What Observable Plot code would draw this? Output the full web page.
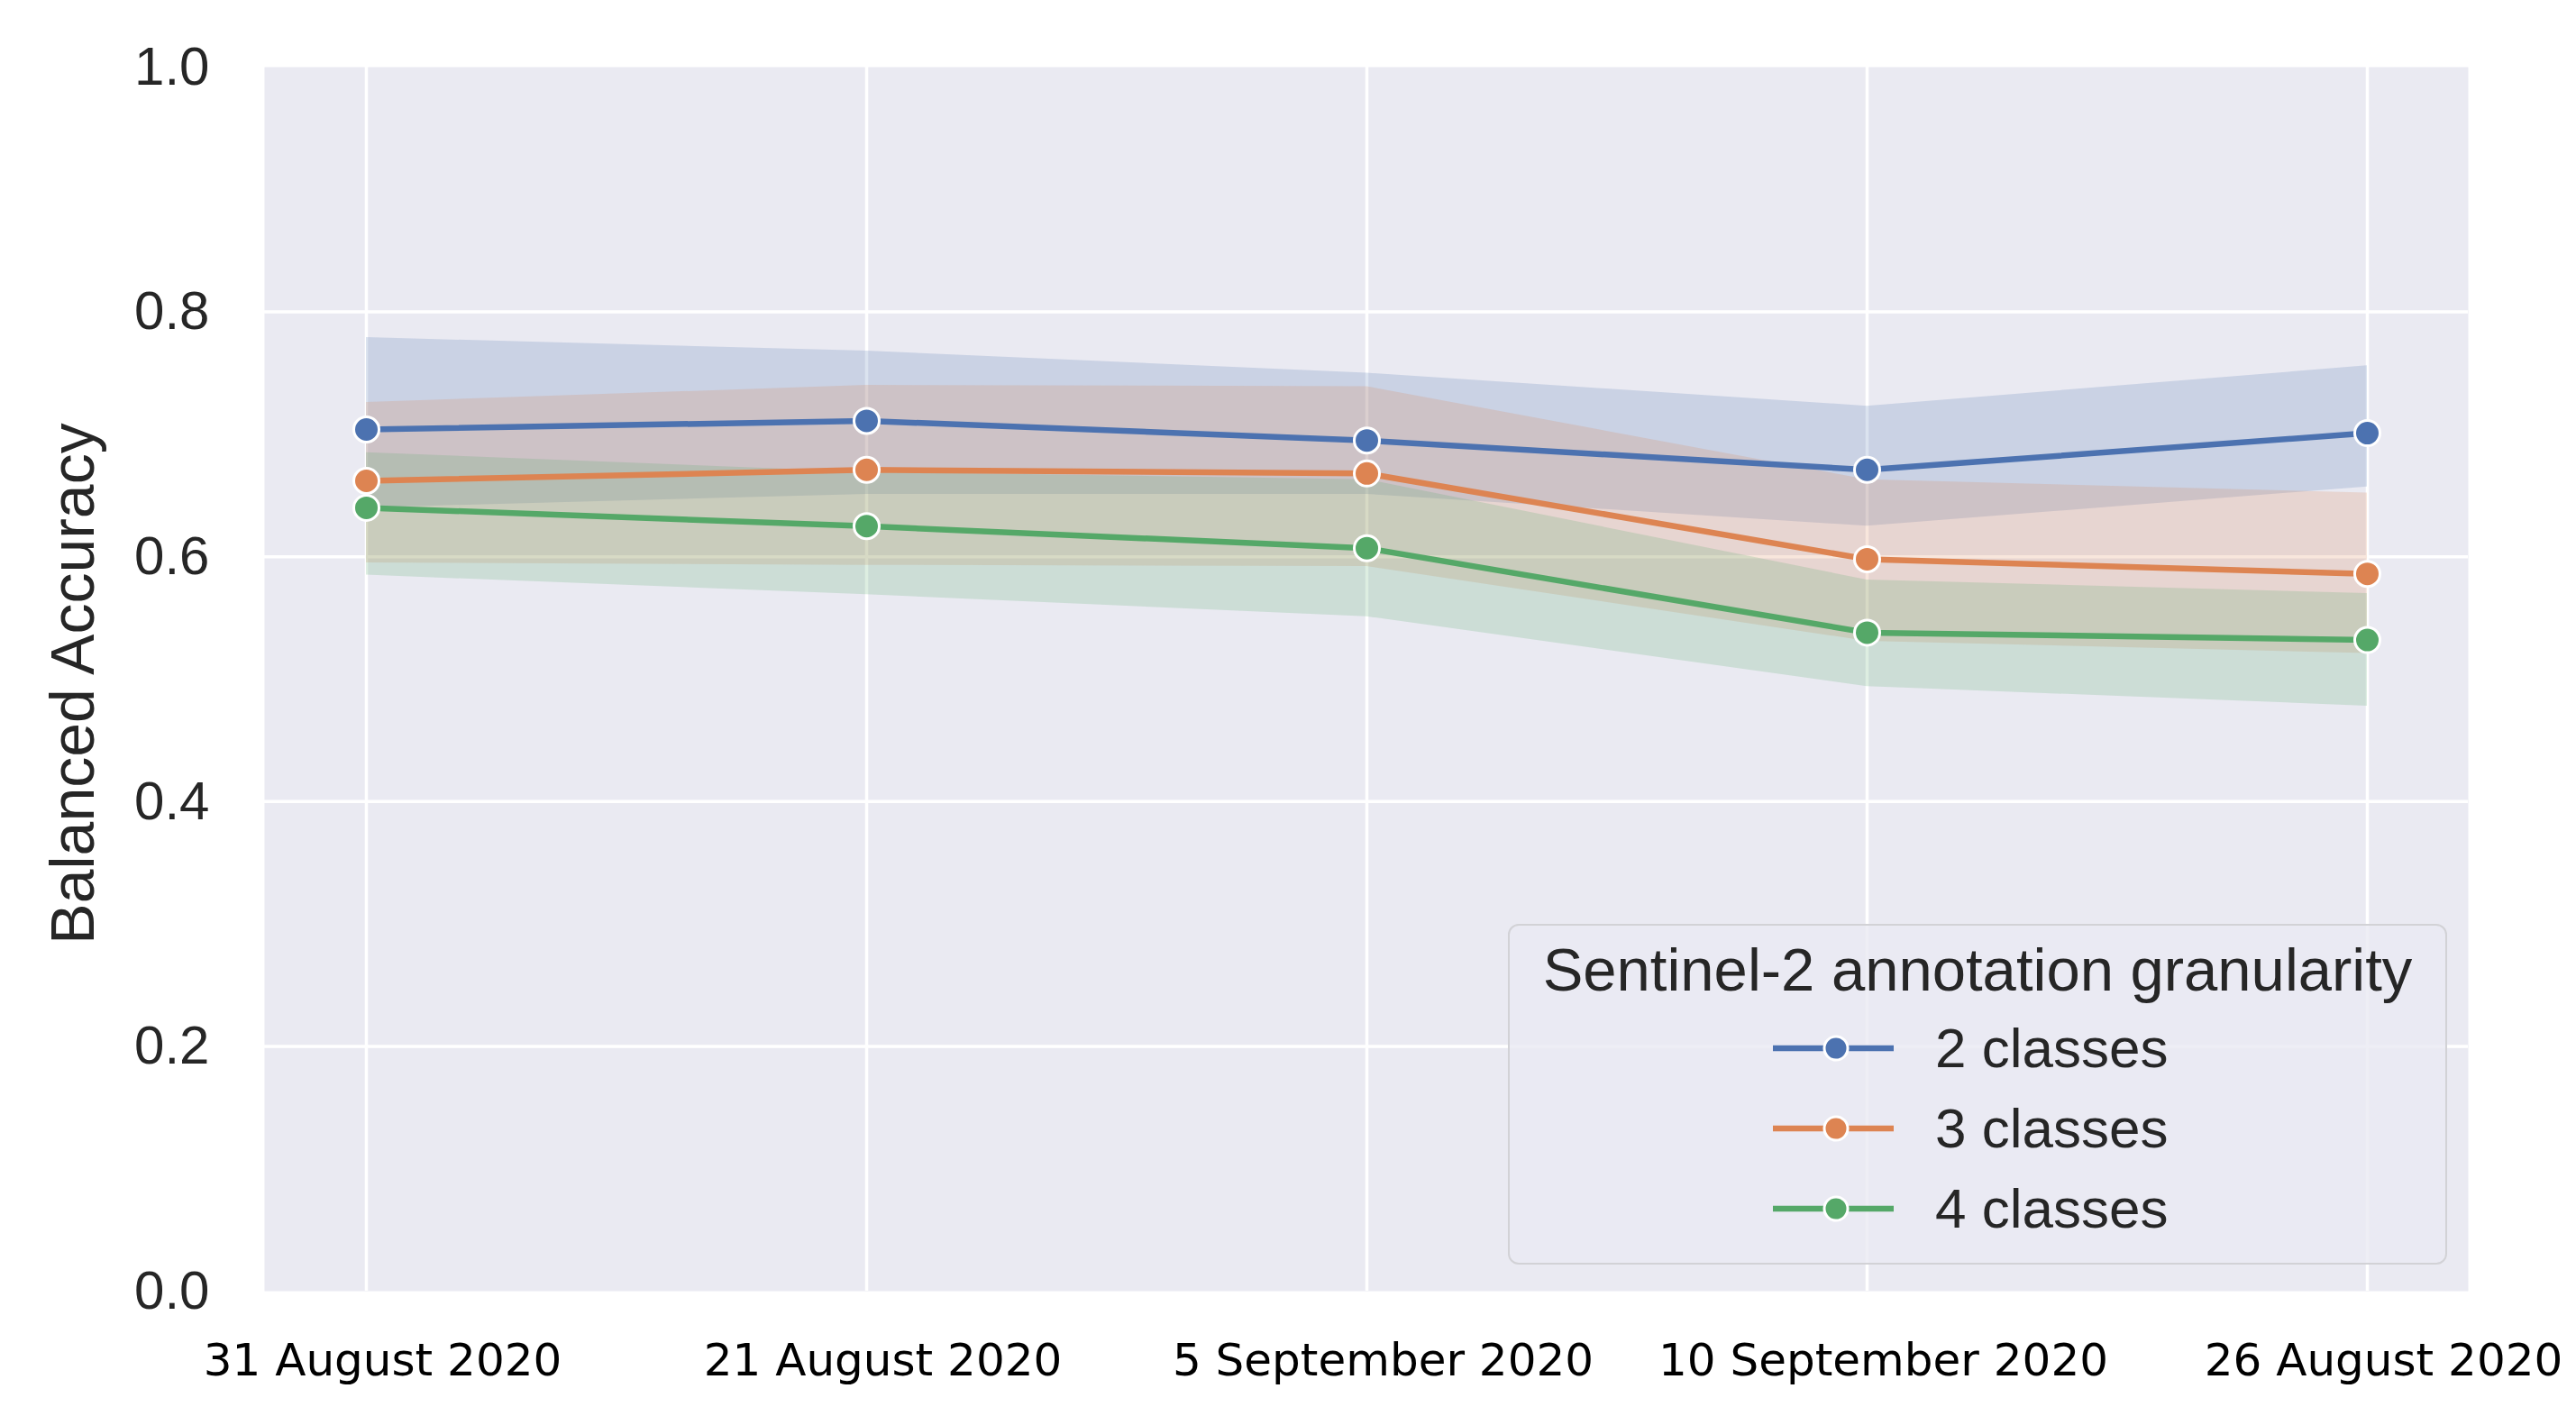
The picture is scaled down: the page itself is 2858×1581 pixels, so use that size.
<!DOCTYPE html>
<html>
<head>
<meta charset="utf-8">
<script src="https://cdn.jsdelivr.net/npm/d3@7"></script>
<script src="https://cdn.jsdelivr.net/npm/@observablehq/plot@0.6"></script>
<style>
  html, body { margin: 0; padding: 0; background: white; }
  #wrap { position: relative; width: 2858px; height: 1581px; }
  #legend {
    position: absolute; left: 1673px; top: 1025px; width: 1042px; height: 378px;
    box-sizing: border-box; border: 2.5px solid #d2d2d6; border-radius: 12px;
    background: rgba(234,234,242,0.8);
    font-family: "Liberation Sans", Arial, sans-serif; color: #262626;
  }
  #legend .title { position: absolute; left: 0; right: 0; top: 4px; text-align: center; font-size: 67px; line-height: 90px; }
  #legend .row { position: absolute; left: 0; height: 80px; width: 100%; }
  #legend .row svg { position: absolute; left: 290px; top: 0; }
  #legend .row span { position: absolute; left: 472px; top: 0; font-size: 62px; line-height: 80px; }
</style>
</head>
<body>
<div id="wrap"></div>
<script>
const dates = ["31 August 2020", "21 August 2020", "5 September 2020", "10 September 2020", "26 August 2020"];
const seriesNames = ["2 classes", "3 classes", "4 classes"];
const seriesColors = ["#4c72b0", "#dd8452", "#55a868"];
const yTicks = [0, 0.2, 0.4, 0.6, 0.8, 1.0];

const mean2 = [0.704, 0.711, 0.695, 0.671, 0.701];
const low2  = [0.640, 0.651, 0.651, 0.625, 0.657];
const high2 = [0.779, 0.768, 0.750, 0.723, 0.756];

const mean3 = [0.662, 0.671, 0.668, 0.598, 0.586];
const low3  = [0.595, 0.593, 0.592, 0.531, 0.521];
const high3 = [0.726, 0.740, 0.739, 0.663, 0.652];

const mean4 = [0.640, 0.625, 0.607, 0.538, 0.532];
const low4  = [0.585, 0.569, 0.551, 0.494, 0.478];
const high4 = [0.685, 0.669, 0.663, 0.581, 0.570];

const legendTitle = "Sentinel-2 annotation granularity";
const yLabel = "Balanced Accuracy";

const means = [mean2, mean3, mean4], lows = [low2, low3, low4], highs = [high2, high3, high4];
const rows = [];
seriesNames.forEach((s, k) => dates.forEach((d, i) => rows.push({series: s, date: d, mean: means[k][i], low: lows[k][i], high: highs[k][i]})));

const chart = Plot.plot({
  width: 2858, height: 1581,
  marginLeft: 293, marginRight: 120, marginTop: 74, marginBottom: 149,
  style: {fontFamily: "'Liberation Sans', Arial, sans-serif", background: "white", overflow: "visible"},
  x: {type: "point", domain: dates, padding: 0.2, axis: null},
  y: {domain: [0, 1], axis: null},
  color: {domain: seriesNames, range: seriesColors},
  marks: [
    Plot.frame({fill: "#eaeaf2", stroke: null}),
    Plot.gridY(yTicks.slice(1, -1), {stroke: "white", strokeOpacity: 1, strokeWidth: 3.5}),
    Plot.gridX(dates, {stroke: "white", strokeOpacity: 1, strokeWidth: 3.5}),
    Plot.areaY(rows, {x: "date", y1: "low", y2: "high", z: "series", fill: "series", fillOpacity: 0.2}),
    Plot.line(rows, {x: "date", y: "mean", z: "series", stroke: "series", strokeWidth: 6.5}),
    Plot.dot(rows, {x: "date", y: "mean", fill: "series", stroke: "white", strokeWidth: 3, r: 14}),
    Plot.axisY(yTicks, {tickSize: 0, tickPadding: 61, tickFormat: d3.format(".1f"), fontSize: 60, color: "#262626", label: null}),
    Plot.axisX(dates, {tickSize: 0, tickPadding: 58, fontSize: 50, fontFamily: "DejaVu Sans", color: "black", dx: 18, label: null}),
    Plot.text([yLabel], {frameAnchor: "left", rotate: -90, dx: -190, dy: 5, textAnchor: "middle", lineAnchor: "bottom", fontSize: 68, fill: "#262626"})
  ]
});
const wrap = document.getElementById("wrap");
wrap.appendChild(chart);

// legend
const leg = document.createElement("div");
leg.id = "legend";
const t = document.createElement("div");
t.className = "title"; t.textContent = legendTitle;
leg.appendChild(t);
const rowTops = [96, 185, 274];
seriesNames.forEach((s, k) => {
  const r = document.createElement("div");
  r.className = "row"; r.style.top = rowTops[k] + "px";
  const c = seriesColors[k];
  r.innerHTML = `<svg width="140" height="80"><line x1="2" x2="136" y1="40" y2="40" stroke="${c}" stroke-width="6.5"/><circle cx="72" cy="40" r="13" fill="${c}" stroke="white" stroke-width="3"/></svg><span>${s}</span>`;
  leg.appendChild(r);
});
wrap.appendChild(leg);
</script>
</body>
</html>
